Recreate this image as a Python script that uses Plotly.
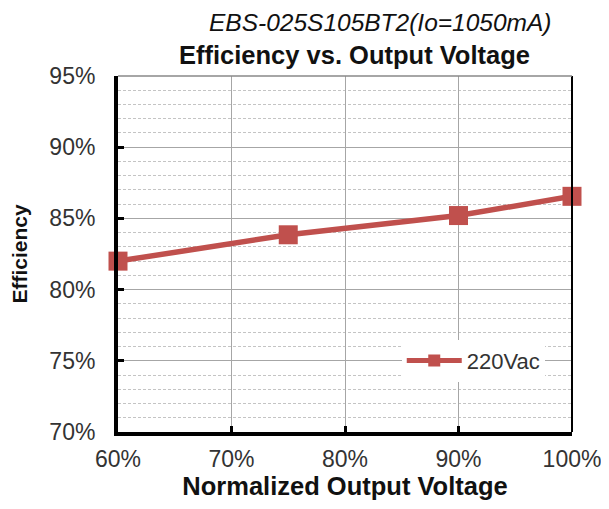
import plotly.graph_objects as go

voltage = [60, 75, 90, 100]
eff_220 = [82.0, 83.85, 85.2, 86.55]
series_name = "220Vac"
x_ticks = [60, 70, 80, 90, 100]
x_labels = ["60%", "70%", "80%", "90%", "100%"]
y_ticks = [70, 75, 80, 85, 90, 95]
y_labels = ["70%", "75%", "80%", "85%", "90%", "95%"]
title1 = "EBS-025S105BT2(Io=1050mA)"
title2 = "Efficiency vs. Output Voltage"
x_title = "Normalized Output Voltage"
y_title = "Efficiency"

red = "#C0504D"
font = "Liberation Sans, Arial, sans-serif"

fig = go.Figure()
fig.add_trace(go.Scatter(
    x=voltage, y=eff_220, name=series_name, mode="lines+markers",
    line=dict(color=red, width=5.5),
    marker=dict(symbol="square", size=19, color=red),
    cliponaxis=False,
))

fig.update_layout(
    width=601, height=501,
    margin=dict(l=110, r=37, t=68, b=77),
    paper_bgcolor="white", plot_bgcolor="white",
    font=dict(family=font, size=23, color="#333"),
    showlegend=True,
    legend=dict(x=0.625, y=0.2, xanchor="left", yanchor="middle",
                bgcolor="white", borderwidth=0,
                font=dict(size=22, color="#333"),
                itemwidth=55, itemsizing="constant"),
    xaxis=dict(range=[60, 100], tickmode="array", tickvals=x_ticks, ticktext=x_labels,
               showgrid=True, gridcolor="#a6a6a6", gridwidth=1,
               showline=True, linecolor="black", linewidth=4,
               ticks="inside", ticklen=6, tickwidth=3, tickcolor="black",
               zeroline=False, tickfont=dict(size=23, color="#333"), automargin=False,
               ticklabelstandoff=3,
               title=dict(text="<b>" + x_title + "</b>", font=dict(size=25.5, color="#111"), standoff=5)),
    yaxis=dict(range=[70, 95], tickmode="array", tickvals=y_ticks, ticktext=y_labels,
               showgrid=True, gridcolor="#a6a6a6", gridwidth=1,
               showline=True, linecolor="black", linewidth=4,
               ticks="inside", ticklen=6, tickwidth=3, tickcolor="black",
               zeroline=False, tickfont=dict(size=23, color="#333"), automargin=False,
               ticklabelstandoff=14,
               minor=dict(dtick=1, showgrid=True, gridcolor="#c4c4c4", griddash="3px,2px", gridwidth=1),
               title=dict(text="<b>" + y_title + "</b>", font=dict(size=21, color="#111"), standoff=20)),
    shapes=[
        dict(type="line", xref="paper", yref="paper", x0=1, x1=1, y0=0, y1=1,
             line=dict(color="black", width=2)),
        dict(type="line", xref="paper", yref="paper", x0=0, x1=1, y0=1, y1=1,
             line=dict(color="#888", width=1.5)),
    ],
    annotations=[
        dict(text="<i>" + title1 + "</i>", xref="paper", yref="paper", x=0.579, y=1.0,
             xanchor="center", yanchor="middle", yshift=54, showarrow=False,
             font=dict(size=24.5, color="#111")),
        dict(text="<b>" + title2 + "</b>", xref="paper", yref="paper", x=0.522, y=1.0,
             xanchor="center", yanchor="middle", yshift=21, showarrow=False,
             font=dict(size=25.5, color="#111")),
    ],
)

fig.write_html("out.html")
